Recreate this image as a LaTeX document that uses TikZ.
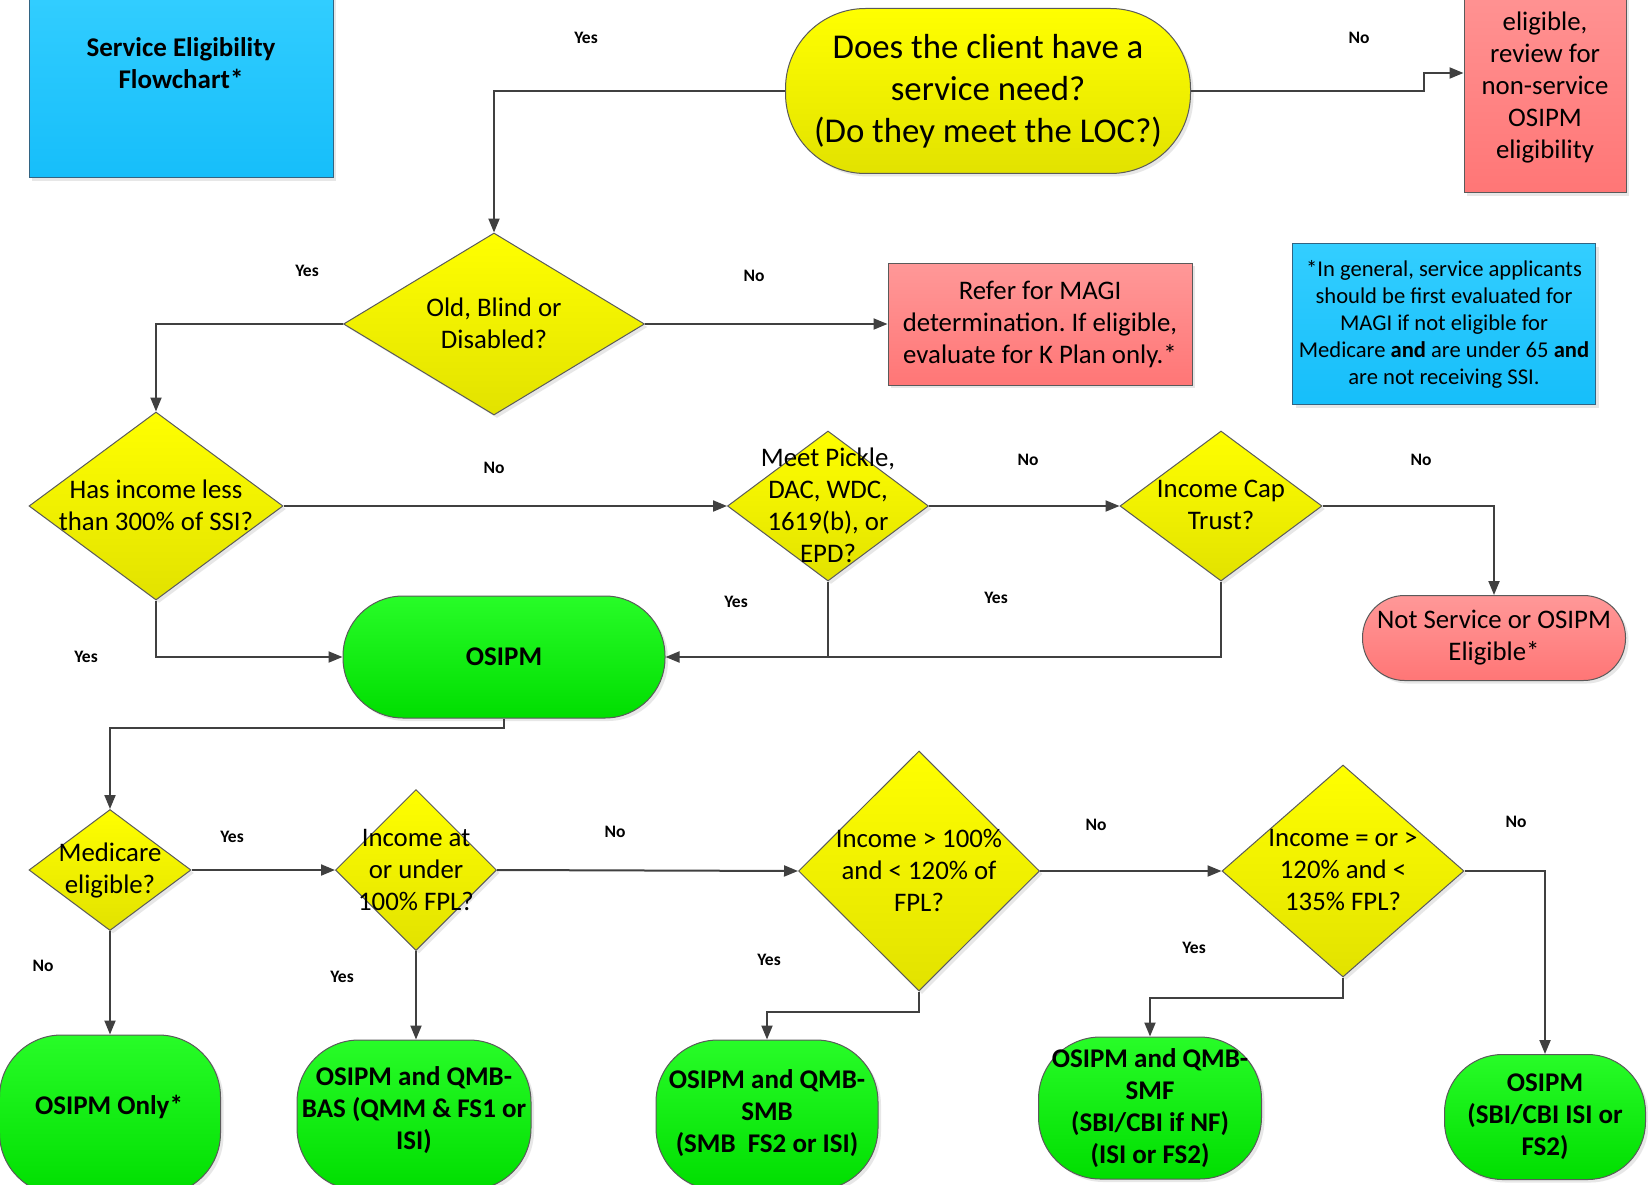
\documentclass[tikz,border=0pt]{standalone}
\usepackage{fontspec}
\setmainfont{Carlito}
\usetikzlibrary{shapes.geometric,arrows.meta,shadows}
\definecolor{yelT}{RGB}{255,255,0}
\definecolor{yelB}{RGB}{226,226,0}
\definecolor{redT}{RGB}{255,152,152}
\definecolor{redB}{RGB}{255,118,118}
\definecolor{bluT}{RGB}{51,206,255}
\definecolor{bluB}{RGB}{22,190,250}
\definecolor{grnT}{RGB}{40,252,40}
\definecolor{grnB}{RGB}{0,222,0}
\definecolor{edge}{RGB}{90,90,90}
\definecolor{bedge}{RGB}{50,100,130}
\definecolor{wire}{RGB}{64,64,64}
\frenchspacing
\tikzset{
  shad/.style={drop shadow={shadow xshift=3pt,shadow yshift=-3pt,fill=black!18}},
  base/.style={draw=edge,line width=1pt,shad},
  yel/.style={base,top color=yelT,bottom color=yelB},
  redf/.style={base,top color=redT,bottom color=redB},
  bluf/.style={base,draw=bedge,top color=bluT,bottom color=bluB},
  grnf/.style={base,top color=grnT,bottom color=grnB},
  dia/.style={diamond,yel,inner sep=0pt},
  termbox/.style={rectangle,rounded corners=#1,inner sep=0pt,align=center},
  fbig/.style={font=\fontsize{34.8}{42}\selectfont},
  fmid/.style={font=\fontsize{26.8}{32}\selectfont},
  fsml/.style={font=\fontsize{22.6}{27}\selectfont},
  fbold/.style={font=\bfseries\fontsize{27}{32}\selectfont},
  txt/.style={align=center,inner sep=0pt},
  lab/.style={font=\bfseries\fontsize{17.5}{20}\selectfont,inner sep=0pt},
  wirel/.style={draw=wire,line width=2pt},
  arr/.style={wirel,-{Triangle[length=14pt,width=11pt]}}
}
\begin{document}
\begin{tikzpicture}[x=1pt,y=-1pt]
\useasboundingbox (0,0) rectangle (1648,1185);
\clip (0,0) rectangle (1648,1185);
\fill[white] (0,0) rectangle (1648,1185);

% title box
\node[bluf,rectangle,minimum width=304pt,minimum height=190pt,inner sep=0pt] (title) at (181,83) {};
\node[txt,fbold] (titletxt) at (181,63) {Service Eligibility\\Flowchart*};

% top terminator
\node[yel,termbox=80pt,minimum width=405pt,minimum height=165pt,fbig] (top) at (988,91)
  {Does the client have a\\service need?\\(Do they meet the LOC?)};

% top-right red box (cut at top)
\node[redf,rectangle,minimum width=162pt,minimum height=240pt,inner sep=0pt] (nonsvc) at (1545,73) {};
\node[txt,fmid] (nonsvctxt) at (1545,87) {eligible,\\review for\\non-service\\OSIPM\\eligibility};

% Old blind disabled
\node[dia,minimum width=301pt,minimum height=182pt] (obd) at (494,324) {};
\node[txt,fmid] (obdtxt) at (494,323) {Old, Blind or\\Disabled?};

% MAGI box
\node[redf,rectangle,minimum width=304pt,minimum height=122pt,inner sep=0pt,align=center,fmid] (magi) at (1040,324)
  {Refer for MAGI\\determination. If eligible,\\evaluate for K Plan only.*};

% note box
\node[bluf,rectangle,minimum width=303pt,minimum height=161pt,inner sep=0pt,align=center,fsml] (note) at (1444,324)
  {*In general, service applicants\\should be first evaluated for\\MAGI if not eligible for\\Medicare \textbf{and} are under 65 \textbf{and}\\are not receiving SSI.};

% row 3
\node[dia,minimum width=254pt,minimum height=188pt] (inc300) at (156,506) {};
\node[txt,fmid] (inc300txt) at (156,505) {Has income less\\than 300\% of SSI?};

\node[dia,minimum width=201pt,minimum height=150pt] (pickle) at (828,506) {};
\node[txt,fmid] (pickletxt) at (828,505) {Meet Pickle,\\DAC, WDC,\\1619(b), or\\EPD?};

\node[dia,minimum width=202pt,minimum height=150pt] (ict) at (1221,506) {};
\node[txt,fmid] (icttxt) at (1221,505) {Income Cap\\Trust?};

\node[redf,termbox=42pt,minimum width=263pt,minimum height=85pt,fmid] (notelig) at (1494,638)
  {Not Service or OSIPM\\Eligible*};

\node[grnf,termbox=60pt,minimum width=322pt,minimum height=122pt,fbold] (osipm) at (504,657) {OSIPM};

% row 4
\node[dia,minimum width=162pt,minimum height=121pt] (medi) at (110,870) {};
\node[txt,fmid] (meditxt) at (110,870) {Medicare\\eligible?};

\node[dia,minimum width=161pt,minimum height=161pt] (fpl100) at (416,870) {};
\node[txt,fmid] (fpl100txt) at (416,870) {Income at\\or under\\100\% FPL?};

\node[dia,minimum width=241pt,minimum height=240pt] (fpl120) at (919,871) {};
\node[txt,fmid] (fpl120txt) at (919,870) {Income > 100\%\\and < 120\% of\\FPL?};

\node[dia,minimum width=242pt,minimum height=212pt] (fpl135) at (1343,871) {};
\node[txt,fmid] (fpl135txt) at (1343,870) {Income = or >\\120\% and <\\135\% FPL?};

% bottom results
\node[grnf,termbox=62pt,minimum width=221pt,minimum height=160pt,fbold] (only) at (110,1115) {};
\node[txt,fbold] (onlytxt) at (109,1107) {OSIPM Only*};

\node[grnf,termbox=62pt,minimum width=234pt,minimum height=150pt] (bas) at (414,1115) {};
\node[txt,fbold] (bastxt) at (414,1110) {OSIPM and QMB-\\BAS (QMM \& FS1 or\\ISI)};

\node[grnf,termbox=62pt,minimum width=222pt,minimum height=150pt] (smb) at (767,1115) {};
\node[txt,fbold] (smbtxt) at (767,1113) {OSIPM and QMB-\\SMB\\(SMB\ \ FS2 or ISI)};

\node[grnf,termbox=62pt,minimum width=223pt,minimum height=142pt] (smf) at (1150,1108) {};
\node[txt,fbold] (smftxt) at (1150,1108) {OSIPM and QMB-\\SMF\\(SBI/CBI if NF)\\(ISI or FS2)};

\node[grnf,termbox=58pt,minimum width=201pt,minimum height=125pt] (osr) at (1545,1117) {};
\node[txt,fbold] (osrtxt) at (1545,1117) {OSIPM\\(SBI/CBI ISI or\\FS2)};

% connectors
\draw[arr] (top.east) -- ++(233,0) |- (nonsvc.west);
\draw[arr] (top.west) -| (obd.north);
\draw[arr] (obd.east) -- (magi.west);
\draw[arr] (obd.west) -| (inc300.north);
\draw[arr] (inc300.east) -- (pickle.west);
\draw[arr] (pickle.east) -- (ict.west);
\draw[arr] (ict.east) -| (notelig.north);
\draw[arr] (inc300.south) |- (osipm.west);
\draw[arr] (pickle.south) |- (osipm.east);
\draw[wirel] (ict.south) |- (pickle.south |- osipm.east);
\draw[arr] (osipm.south) -- ++(0,9) -| (medi.north);
\draw[arr] (medi.east) -- (fpl100.west);
\draw[arr] (medi.south) -- (only.north);
\draw[arr] (fpl100.south) -- (fpl100.south |- bas.north);
\draw[arr] (fpl100.east) -- (fpl120.west);
\draw[arr] (fpl120.east) -- (fpl135.west);
\draw[arr] (fpl135.east) -| (osr.north);
\draw[arr] (fpl120.south) -- ++(0,20) -| (smb.north);
\draw[arr] (fpl135.south) -- ++(0,20) -| (smf.north);

% labels
\node[lab] (l1) at (586,38) {Yes};
\node[lab] (l2) at (1359,38) {No};
\node[lab] (l3) at (307,271) {Yes};
\node[lab] (l4) at (754,276) {No};
\node[lab] (l5) at (494,468) {No};
\node[lab] (l6) at (1028,460) {No};
\node[lab] (l7) at (1421,460) {No};
\node[lab] (l8) at (86,657) {Yes};
\node[lab] (l9) at (736,602) {Yes};
\node[lab] (l10) at (996,598) {Yes};
\node[lab] (l11) at (232,837) {Yes};
\node[lab] (l12) at (615,832) {No};
\node[lab] (l13) at (1096,825) {No};
\node[lab] (l14) at (1516,822) {No};
\node[lab] (l15) at (43,966) {No};
\node[lab] (l16) at (342,977) {Yes};
\node[lab] (l17) at (769,960) {Yes};
\node[lab] (l18) at (1194,948) {Yes};
\end{tikzpicture}
\end{document}
